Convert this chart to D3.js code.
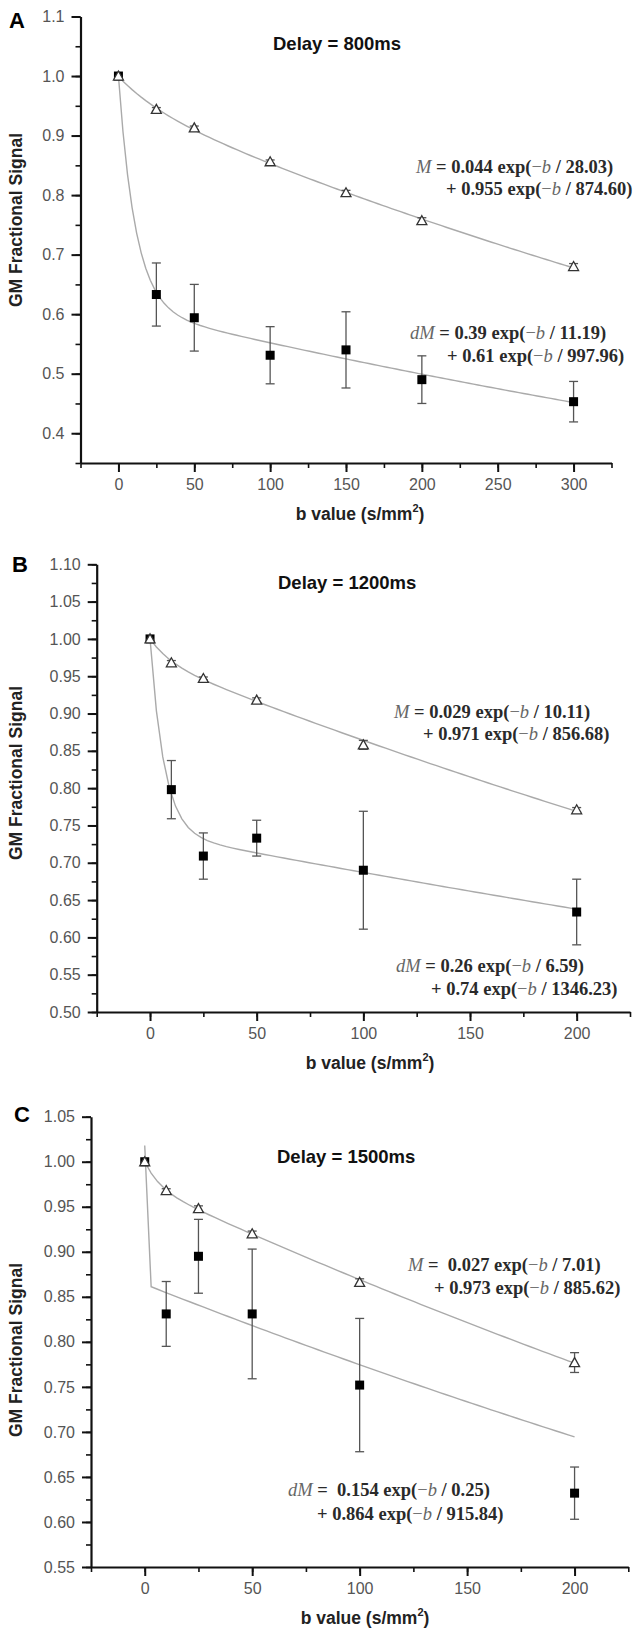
<!DOCTYPE html>
<html><head><meta charset="utf-8">
<script src="https://cdn.jsdelivr.net/npm/d3@7"></script>
<style>body{margin:0;background:#fff}svg{display:block}</style>
</head><body>
<svg id="chart" width="636" height="1629"></svg>
<script>
// ---------------- DATA ----------------
// Panel A (Delay = 800ms)
const bA      = [0, 25, 50, 100, 150, 200, 300];
const mA      = [1.000, 0.944, 0.913, 0.856, 0.804, 0.757, 0.680];
const mErrA   = [0, 0.003, 0.003, 0.003, 0.004, 0.005, 0.005];
const dmA     = [1.000, 0.633, 0.594, 0.531, 0.540, 0.490, 0.453];
const dmErrA  = [0, 0.053, 0.056, 0.048, 0.064, 0.040, 0.034];
const fitMA   = ["0.044", "28.03", "0.955", "874.60"];
const fitDmA  = ["0.39", "11.19", "0.61", "997.96"];
const xTicksA = [0, 50, 100, 150, 200, 250, 300];
const yTicksA = [0.4, 0.5, 0.6, 0.7, 0.8, 0.9, 1.0, 1.1];

// Panel B (Delay = 1200ms)
const bB      = [0, 10, 25, 50, 100, 200];
const mB      = [1.000, 0.968, 0.947, 0.918, 0.858, 0.771];
const mErrB   = [0, 0.003, 0.002, 0.003, 0.006, 0.003];
const dmB     = [1.000, 0.798, 0.709, 0.733, 0.690, 0.634];
const dmErrB  = [0, 0.039, 0.031, 0.024, 0.079, 0.044];
const fitMB   = ["0.029", "10.11", "0.971", "856.68"];
const fitDmB  = ["0.26", "6.59", "0.74", "1346.23"];
const xTicksB = [0, 50, 100, 150, 200];
const yTicksB = [0.50, 0.55, 0.60, 0.65, 0.70, 0.75, 0.80, 0.85, 0.90, 0.95, 1.00, 1.05, 1.10];

// Panel C (Delay = 1500ms)
const bC      = [0, 10, 25, 50, 100, 200];
const mC      = [1.000, 0.968, 0.948, 0.920, 0.866, 0.777];
const mErrC   = [0, 0.002, 0.003, 0.003, 0.004, 0.011];
const dmC     = [1.000, 0.831, 0.895, 0.831, 0.752, 0.632];
const dmErrC  = [0, 0.036, 0.041, 0.072, 0.074, 0.029];
const fitMC   = ["0.027", "7.01", "0.973", "885.62"];
const fitDmC  = ["0.154", "0.25", "0.864", "915.84"];
const xTicksC = [0, 50, 100, 150, 200];
const yTicksC = [0.55, 0.60, 0.65, 0.70, 0.75, 0.80, 0.85, 0.90, 0.95, 1.00, 1.05];

// ---------------- DRAWING ----------------
const svg = d3.select("#chart");
const SANS = "'Liberation Sans', Arial, sans-serif";
const SERIF = "'Liberation Serif', 'Times New Roman', serif";

function biexp(c, b) {
  return +c[0] * Math.exp(-b / +c[1]) + +c[2] * Math.exp(-b / +c[3]);
}

function equation(g, x1, y1, x2, y2, name, c, dbl) {
  const lines = [
    [[x1, y1], [[name, "i"], [dbl ? " =  " : " = ", ""], [c[0], ""], [" exp(", ""], ["\u2212", "g"], ["b", "i"], [" / " + c[1] + ")", ""]]],
    [[x2, y2], [["+ " + c[2], ""], [" exp(", ""], ["\u2212", "g"], ["b", "i"], [" / " + c[3] + ")", ""]]]
  ];
  lines.forEach(([pos, parts]) => {
    const t = g.append("text").attr("x", pos[0]).attr("y", pos[1])
      .style("white-space", "pre")
      .attr("font-family", SERIF).attr("font-size", 18.5).attr("font-weight", "bold").attr("fill", "#2a2a2a");
    parts.forEach(([s, st]) => {
      const ts = t.append("tspan").text(s);
      if (st === "i") ts.attr("font-style", "italic").attr("font-weight", "normal").attr("fill", "#666");
      if (st === "g") ts.attr("font-weight", "normal").attr("fill", "#555");
    });
  });
}

function panel(p) {
  const g = svg.append("g");
  const x = d3.scaleLinear().domain(p.xDom).range([p.left, p.right]);
  const y = d3.scaleLinear().domain(p.yDom).range([p.bottom, p.top]);

  // minor ticks
  const xMinor = d3.range(p.xDom[0], p.xDom[1] + 0.001, 25);
  const yMinor = d3.range(0, Math.round((p.yDom[1] - p.yDom[0]) / p.yMinorStep) + 1)
    .map(i => p.yDom[0] + i * p.yMinorStep);

  g.append("g").attr("transform", `translate(0,${p.bottom})`)
    .call(d3.axisBottom(x).tickValues(xMinor).tickSize(5).tickSizeOuter(0).tickFormat(""))
    .call(a => a.select(".domain").remove())
    .call(a => a.selectAll("line").attr("stroke", "#111").attr("stroke-width", 1.6));
  g.append("g").attr("transform", `translate(${p.left},0)`)
    .call(d3.axisLeft(y).tickValues(yMinor).tickSize(5).tickSizeOuter(0).tickFormat(""))
    .call(a => a.select(".domain").remove())
    .call(a => a.selectAll("line").attr("stroke", "#111").attr("stroke-width", 1.6));

  // major axes
  const xa = g.append("g").attr("transform", `translate(0,${p.bottom})`)
    .call(d3.axisBottom(x).tickValues(p.xTicks).tickSize(9).tickSizeOuter(0).tickPadding(7).tickFormat(d3.format("d")));
  const ya = g.append("g").attr("transform", `translate(${p.left},0)`)
    .call(d3.axisLeft(y).tickValues(p.yTicks).tickSize(9).tickSizeOuter(0).tickPadding(7).tickFormat(d3.format(p.yFmt)));
  [xa, ya].forEach(a => {
    a.select(".domain").attr("stroke", "#111").attr("stroke-width", 2.2);
    a.selectAll(".tick line").attr("stroke", "#111").attr("stroke-width", 2);
    a.selectAll(".tick text").attr("font-family", SANS).attr("font-size", 16).attr("fill", "#555");
  });

  // labels
  g.append("text").attr("x", p.letterX).attr("y", p.letterY).text(p.letter)
    .attr("font-family", SANS).attr("font-weight", "bold").attr("font-size", 22).attr("fill", "#000");
  g.append("text").attr("x", p.titleX).attr("y", p.titleY).text(p.title)
    .attr("font-family", SANS).attr("font-weight", "bold").attr("font-size", 18.5).attr("fill", "#111");
  const xt = g.append("text").attr("x", p.xTitleX).attr("y", p.bottom + 57).attr("text-anchor", "middle")
    .attr("font-family", SANS).attr("font-weight", "bold").attr("font-size", 17.5).attr("fill", "#222");
  xt.append("tspan").text("b value (s/mm");
  xt.append("tspan").text("2").attr("font-size", 11).attr("dy", -8);
  xt.append("tspan").text(")").attr("dy", 8);
  g.append("text").attr("transform", `translate(${p.yTitleX},${p.yTitleY}) rotate(-90)`)
    .attr("text-anchor", "middle").text("GM Fractional Signal")
    .attr("font-family", SANS).attr("font-weight", "bold").attr("font-size", 17.5).attr("fill", "#222");

  // fit curves
  const bmax = d3.max(p.b);
  const n = Math.round(bmax / 3);
  const samples = d3.range(0, n + 1).map(i => bmax * i / n);
  const line = d3.line().x(d => x(d[0])).y(d => y(d[1]));
  [p.fitM, p.fitDm].forEach(c => {
    g.append("path").attr("d", line(samples.map(b => [b, biexp(c, b)])))
      .attr("fill", "none").attr("stroke", "#aaa").attr("stroke-width", 1.4);
  });

  // error bars
  const drawErr = (vals, errs) => {
    p.b.forEach((b, i) => {
      const e = errs[i];
      if (!e) return;
      const cx = x(b), y1 = y(vals[i] + e), y2 = y(vals[i] - e);
      g.append("line").attr("x1", cx).attr("x2", cx).attr("y1", y1).attr("y2", y2)
        .attr("stroke", "#555").attr("stroke-width", 1.3);
      [y1, y2].forEach(yy => g.append("line").attr("x1", cx - 4.5).attr("x2", cx + 4.5)
        .attr("y1", yy).attr("y2", yy).attr("stroke", "#555").attr("stroke-width", 1.3));
    });
  };
  drawErr(p.dm, p.dmErr);
  drawErr(p.m, p.mErr);

  // squares
  g.selectAll(null).data(p.b.map((b, i) => [b, p.dm[i]])).enter().append("rect")
    .attr("x", d => x(d[0]) - 4.5).attr("y", d => y(d[1]) - 4.5)
    .attr("width", 9).attr("height", 9).attr("fill", "#000");
  // triangles
  g.selectAll(null).data(p.b.map((b, i) => [b, p.m[i]])).enter().append("path")
    .attr("d", "M0,-5L5,4L-5,4Z")
    .attr("transform", d => `translate(${x(d[0])},${y(d[1])})`)
    .attr("fill", "#fff").attr("stroke", "#333").attr("stroke-width", 1.3);

  // equations
  equation(g, p.eqM[0], p.eqM[1], p.eqM[2], p.eqM[3], "M", p.fitM, p.dbl);
  equation(g, p.eqD[0], p.eqD[1], p.eqD[2], p.eqD[3], "dM", p.fitDm, p.dbl);
}

panel({
  letter: "A", letterX: 9, letterY: 28, title: "Delay = 800ms", titleX: 273, titleY: 50,
  b: bA, m: mA, mErr: mErrA, dm: dmA, dmErr: dmErrA, fitM: fitMA, fitDm: fitDmA,
  xTicks: xTicksA, yTicks: yTicksA, yFmt: ".1f", yMinorStep: 0.05,
  xDom: [-25, 325], yDom: [0.35, 1.1], left: 80.5, right: 611.5, top: 16.5, bottom: 463,
  xTitleX: 360, yTitleX: 22, yTitleY: 220,
  eqM: [416, 173, 446, 195], eqD: [410, 339, 447, 362], dbl: false
});
panel({
  letter: "B", letterX: 12, letterY: 572, title: "Delay = 1200ms", titleX: 278, titleY: 589,
  b: bB, m: mB, mErr: mErrB, dm: dmB, dmErr: dmErrB, fitM: fitMB, fitDm: fitDmB,
  xTicks: xTicksB, yTicks: yTicksB, yFmt: ".2f", yMinorStep: 0.025,
  xDom: [-25, 225], yDom: [0.5, 1.1], left: 96.7, right: 630, top: 564.3, bottom: 1012,
  xTitleX: 370, yTitleX: 22, yTitleY: 773,
  eqM: [394, 718, 423, 740], eqD: [396, 972, 431, 995], dbl: false
});
panel({
  letter: "C", letterX: 14, letterY: 1122, title: "Delay = 1500ms", titleX: 277, titleY: 1163,
  b: bC, m: mC, mErr: mErrC, dm: dmC, dmErr: dmErrC, fitM: fitMC, fitDm: fitDmC,
  xTicks: xTicksC, yTicks: yTicksC, yFmt: ".2f", yMinorStep: 0.025,
  xDom: [-25, 225], yDom: [0.55, 1.05], left: 91, right: 628.3, top: 1116.7, bottom: 1567,
  xTitleX: 365, yTitleX: 22, yTitleY: 1350,
  eqM: [408, 1271, 434, 1294], eqD: [288, 1496, 317, 1520], dbl: true
});
</script>
</body></html>
